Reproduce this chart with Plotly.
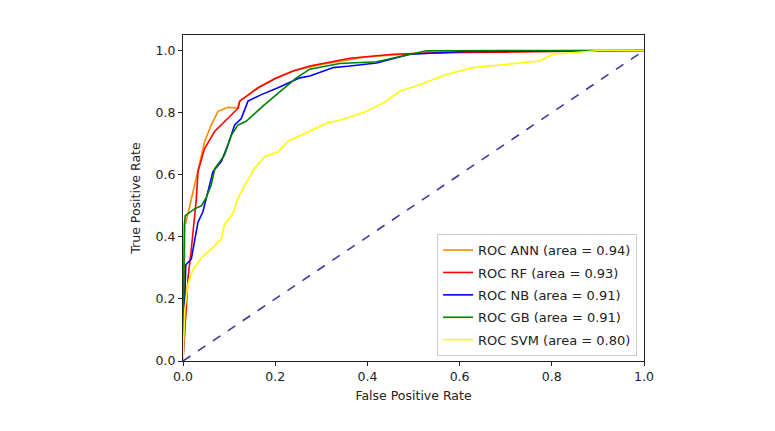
import plotly.graph_objects as go

# ROC curve data
ann_fpr = [0, 0.002, 0.003, 0.004, 0.007, 0.0145, 0.018, 0.0325, 0.047, 0.061, 0.076, 0.0975, 0.118, 0.123, 0.163, 0.2, 0.24, 0.3, 0.4, 0.5, 0.6, 0.8, 1.0]
ann_tpr = [0, 0.1, 0.3, 0.436, 0.45, 0.5, 0.523, 0.62, 0.707, 0.76, 0.804, 0.817, 0.815, 0.837, 0.88, 0.91, 0.935, 0.955, 0.98, 0.99, 0.995, 0.998, 1.0]

rf_fpr = [0, 0.004, 0.011, 0.018, 0.025, 0.029, 0.0325, 0.047, 0.069, 0.0975, 0.115, 0.12, 0.123, 0.163, 0.2, 0.239, 0.275, 0.362, 0.456, 0.55, 0.7, 0.9, 1.0]
rf_tpr = [0, 0.09, 0.27, 0.36, 0.468, 0.523, 0.61, 0.685, 0.74, 0.782, 0.81, 0.815, 0.837, 0.88, 0.91, 0.934, 0.95, 0.975, 0.988, 0.993, 0.995, 0.998, 1.0]

nb_fpr = [0, 0.003, 0.006, 0.018, 0.025, 0.0325, 0.043, 0.05, 0.065, 0.083, 0.0975, 0.112, 0.126, 0.141, 0.17, 0.206, 0.2535, 0.275, 0.326, 0.362, 0.42, 0.492, 0.615, 0.8, 1.0]
nb_tpr = [0, 0.15, 0.31, 0.328, 0.382, 0.447, 0.48, 0.523, 0.61, 0.642, 0.696, 0.76, 0.78, 0.837, 0.858, 0.88, 0.912, 0.918, 0.945, 0.95, 0.96, 0.988, 0.997, 0.999, 1.0]

gb_fpr = [0, 0.002, 0.003, 0.005, 0.025, 0.04, 0.05, 0.061, 0.069, 0.09, 0.105, 0.119, 0.137, 0.177, 0.203, 0.22, 0.246, 0.275, 0.34, 0.42, 0.477, 0.528, 0.7, 1.0]
gb_tpr = [0, 0.2, 0.44, 0.468, 0.49, 0.5, 0.525, 0.566, 0.62, 0.663, 0.728, 0.76, 0.772, 0.826, 0.858, 0.88, 0.912, 0.94, 0.958, 0.964, 0.983, 0.999, 1.0, 1.0]

svm_fpr = [0, 0.004, 0.011, 0.0217, 0.04, 0.061, 0.083, 0.09, 0.108, 0.119, 0.134, 0.155, 0.177, 0.206, 0.2275, 0.2535, 0.311, 0.355, 0.398, 0.441, 0.47, 0.5135, 0.571, 0.629, 0.701, 0.7735, 0.802, 0.846, 0.9035, 1.0]
svm_tpr = [0, 0.166, 0.25, 0.295, 0.333, 0.36, 0.393, 0.44, 0.474, 0.523, 0.566, 0.62, 0.658, 0.674, 0.707, 0.725, 0.766, 0.782, 0.804, 0.837, 0.869, 0.89, 0.923, 0.945, 0.955, 0.966, 0.988, 0.993, 1.0, 1.0]

chance_x = [0, 1]
chance_y = [0, 1]

series = [
    ("ROC ANN (area = 0.94)", ann_fpr, ann_tpr, "#ff8c00"),
    ("ROC RF (area = 0.93)", rf_fpr, rf_tpr, "#ff0000"),
    ("ROC NB (area = 0.91)", nb_fpr, nb_tpr, "#0000ff"),
    ("ROC GB (area = 0.91)", gb_fpr, gb_tpr, "#008000"),
    ("ROC SVM (area = 0.80)", svm_fpr, svm_tpr, "#ffff00"),
]

fig = go.Figure()
for i, (name, x, y, c) in enumerate(series):
    fig.add_trace(go.Scatter(x=x, y=y, mode="lines", name=name, legendgroup=f"g{i}",
                             line=dict(color=c, width=1.6)))
fig.add_trace(go.Scatter(x=chance_x, y=chance_y, mode="lines", showlegend=False,
                         line=dict(color="#3a3aa0", width=1.6, dash="dash")))

axis_common = dict(
    showgrid=False, zeroline=False, showline=True, linecolor="#222", linewidth=1,
    mirror=True, ticks="outside", ticklen=4, tickcolor="#222",
    tickfont=dict(size=12.5, color="#222"),
)
fig.update_layout(
    width=775, height=431,
    margin=dict(l=175, r=139, t=27, b=78),
    paper_bgcolor="white", plot_bgcolor="white",
    font=dict(family="DejaVu Sans", color="#222"),
    xaxis=dict(range=[0, 1], tickvals=[0, 0.2, 0.4, 0.6, 0.8, 1.0],
               ticktext=["0.0", "0.2", "0.4", "0.6", "0.8", "1.0"],
               title=dict(text="False Positive Rate", font=dict(size=12.5), standoff=8),
               **axis_common),
    yaxis=dict(range=[0, 1.05], tickvals=[0, 0.2, 0.4, 0.6, 0.8, 1.0],
               ticktext=["0.0", "0.2", "0.4", "0.6", "0.8", "1.0"],
               title=dict(text="True Positive Rate", font=dict(size=12.5), standoff=12),
               **axis_common),
    legend=dict(x=0.985, y=0.015, xanchor="right", yanchor="bottom",
                bgcolor="white", bordercolor="#cccccc", borderwidth=1,
                font=dict(size=13, color="#222"), tracegroupgap=2.5),
    showlegend=True,
)
fig.write_html("out.html")
